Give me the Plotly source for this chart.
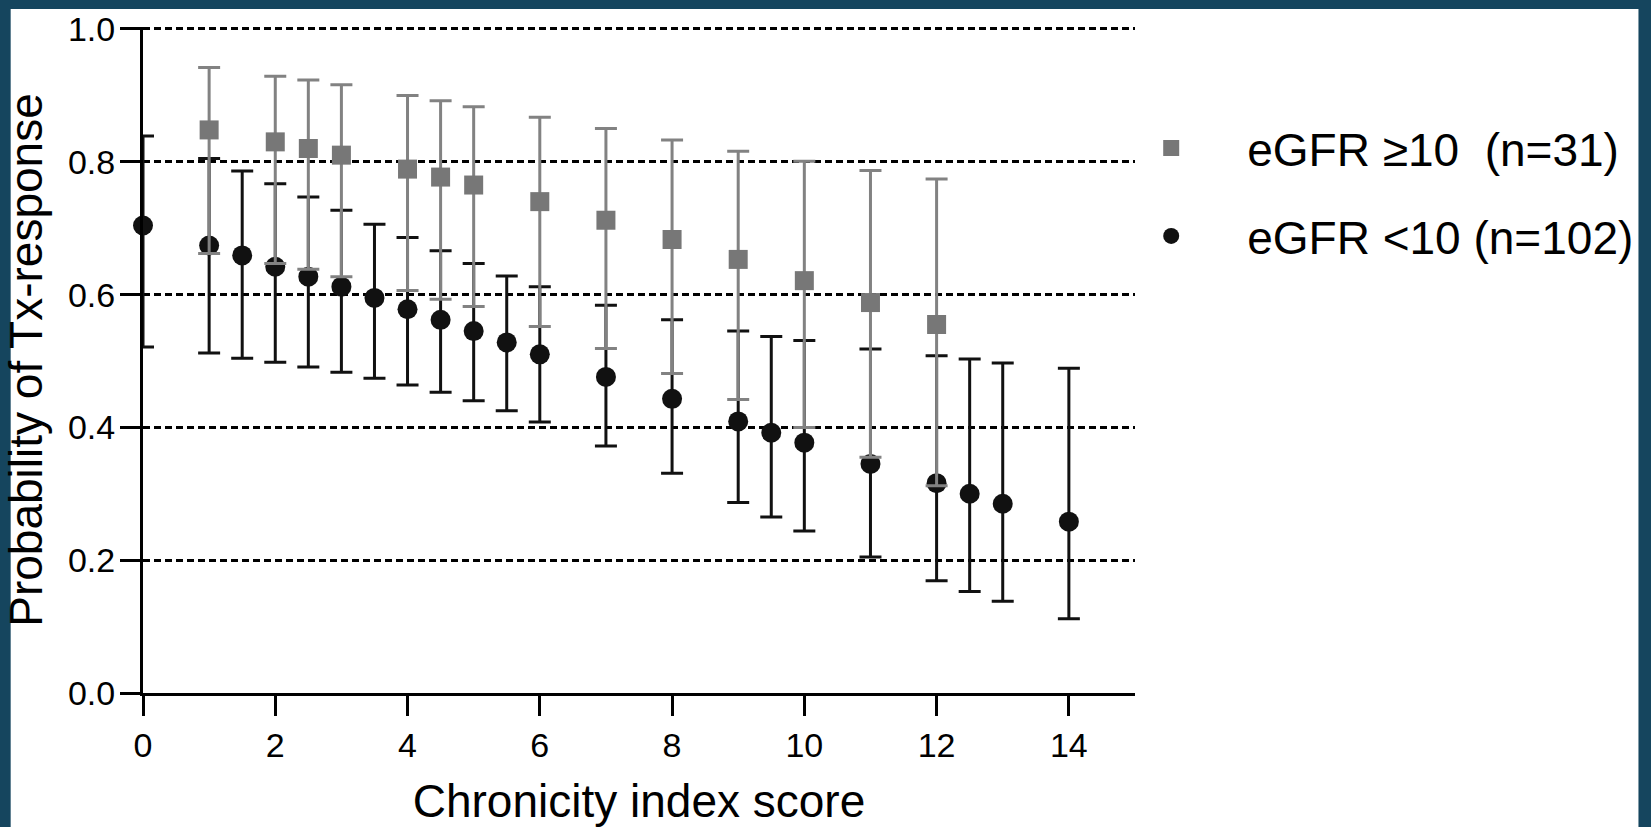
import plotly.graph_objects as go

# ---- data ----
x_low = [0, 1, 1.5, 2, 2.5, 3, 3.5, 4, 4.5, 5, 5.5, 6, 7, 8, 9, 9.5, 10, 11, 12, 12.5, 13, 14]
y_low = [0.704, 0.674, 0.659, 0.642, 0.627, 0.612, 0.595, 0.578, 0.562, 0.545, 0.528, 0.510,
         0.476, 0.443, 0.409, 0.392, 0.377, 0.345, 0.316, 0.300, 0.285, 0.258]
up_low = [0.839, 0.805, 0.786, 0.767, 0.747, 0.727, 0.706, 0.686, 0.666, 0.647, 0.628, 0.612,
          0.584, 0.562, 0.545, 0.537, 0.531, 0.518, 0.508, 0.503, 0.497, 0.489]
lo_low = [0.521, 0.512, 0.504, 0.498, 0.491, 0.483, 0.474, 0.464, 0.453, 0.440, 0.425, 0.408,
          0.372, 0.331, 0.287, 0.265, 0.244, 0.205, 0.169, 0.153, 0.138, 0.112]

x_high = [1, 2, 2.5, 3, 4, 4.5, 5, 6, 7, 8, 9, 10, 11, 12]
y_high = [0.848, 0.830, 0.820, 0.810, 0.789, 0.777, 0.765, 0.740, 0.712, 0.683, 0.653, 0.621, 0.588, 0.555]
up_high = [0.942, 0.929, 0.923, 0.916, 0.900, 0.892, 0.883, 0.867, 0.850, 0.833, 0.816, 0.801, 0.787, 0.774]
lo_high = [0.662, 0.647, 0.638, 0.627, 0.606, 0.593, 0.582, 0.552, 0.519, 0.481, 0.442, 0.400, 0.355, 0.312]

x_ticks = [0, 2, 4, 6, 8, 10, 12, 14]
y_ticks = [0.0, 0.2, 0.4, 0.6, 0.8, 1.0]

name_high = "eGFR \u226510\u00a0 (n=31)"
name_low = "eGFR <10 (n=102)"

BLACK = "#111111"
GRAY = "#777777"
GRAY_BAR = "#828282"
TEAL = "#15455e"
FONT = "Liberation Sans, Arial, Helvetica, sans-serif"

fig = go.Figure()

# black error bars (clipped at the plot edge, as in the original)
fig.add_trace(go.Scatter(
    x=x_low, y=y_low, mode="markers", name=name_low, showlegend=False,
    marker=dict(symbol="circle", size=20, color="rgba(0,0,0,0)"),
    error_y=dict(type="data", symmetric=False,
                 array=[u - v for u, v in zip(up_low, y_low)],
                 arrayminus=[v - l for v, l in zip(y_low, lo_low)],
                 color=BLACK, thickness=3, width=11),
    cliponaxis=True, hoverinfo="skip",
))
# black markers (not clipped)
fig.add_trace(go.Scatter(
    x=x_low, y=y_low, mode="markers", name=name_low, legend="legend2",
    marker=dict(symbol="circle", size=20, color=BLACK),
    cliponaxis=False,
))

fig.add_trace(go.Scatter(
    x=x_high, y=y_high, mode="markers", name=name_high, legend="legend",
    marker=dict(symbol="square", size=19, color=GRAY),
    error_y=dict(type="data", symmetric=False,
                 array=[u - v for u, v in zip(up_high, y_high)],
                 arrayminus=[v - l for v, l in zip(y_high, lo_high)],
                 color=GRAY_BAR, thickness=3, width=11),
    cliponaxis=False,
))

W, H = 1651, 827
L, R, T, B = 143, 511, 27, 134
pw, ph = W - L - R, H - T - B
Y_TOP = 1.003

def px_to_paper_x(px):
    return (px - L) / pw

def px_to_paper_y(py):
    return (H - B - py) / ph

fig.update_layout(
    width=W, height=H,
    margin=dict(l=L, r=R, t=T, b=B, pad=0),
    paper_bgcolor=TEAL,
    plot_bgcolor="white",
    font=dict(family=FONT, color="black"),
    shapes=[dict(type="rect", xref="paper", yref="paper", layer="below",
                 x0=px_to_paper_x(10), x1=px_to_paper_x(1646),
                 y0=px_to_paper_y(H + 5), y1=px_to_paper_y(9),
                 fillcolor="white", line=dict(width=0))],
    legend=dict(x=px_to_paper_x(1100), y=px_to_paper_y(148), xanchor="left", yanchor="middle",
                font=dict(size=46, family=FONT, color="black"),
                bgcolor="rgba(0,0,0,0)", itemwidth=142, borderwidth=0),
    legend2=dict(x=px_to_paper_x(1100), y=px_to_paper_y(236), xanchor="left", yanchor="middle",
                 font=dict(size=46, family=FONT, color="black"),
                 bgcolor="rgba(0,0,0,0)", itemwidth=142, borderwidth=0),
    showlegend=True,
)

fig.update_xaxes(
    range=[0, 15], tickmode="array", tickvals=x_ticks, ticktext=[str(v) for v in x_ticks],
    ticks="outside", ticklen=20, tickwidth=3, tickcolor="black",
    showline=True, linewidth=3, linecolor="black",
    showgrid=False, zeroline=False,
    tickfont=dict(size=34, family=FONT, color="black"),
    title=dict(text="Chronicity index score", font=dict(size=46, family=FONT, color="black"), standoff=29),
    automargin=False,
)
fig.update_yaxes(
    range=[0, Y_TOP], tickmode="array", tickvals=y_ticks, ticktext=[f"{v:.1f}" for v in y_ticks],
    ticks="outside", ticklen=20, tickwidth=3, tickcolor="black",
    showline=True, linewidth=3, linecolor="black",
    showgrid=True, gridcolor="black", gridwidth=3, griddash="7px,4px",
    zeroline=False,
    tickfont=dict(size=34, family=FONT, color="black"),
    ticklabelstandoff=-2,
    title=dict(text="Probability of Tx-response", font=dict(size=46, family=FONT, color="black"), standoff=14),
    automargin=False,
)

fig.write_html("out.html")
